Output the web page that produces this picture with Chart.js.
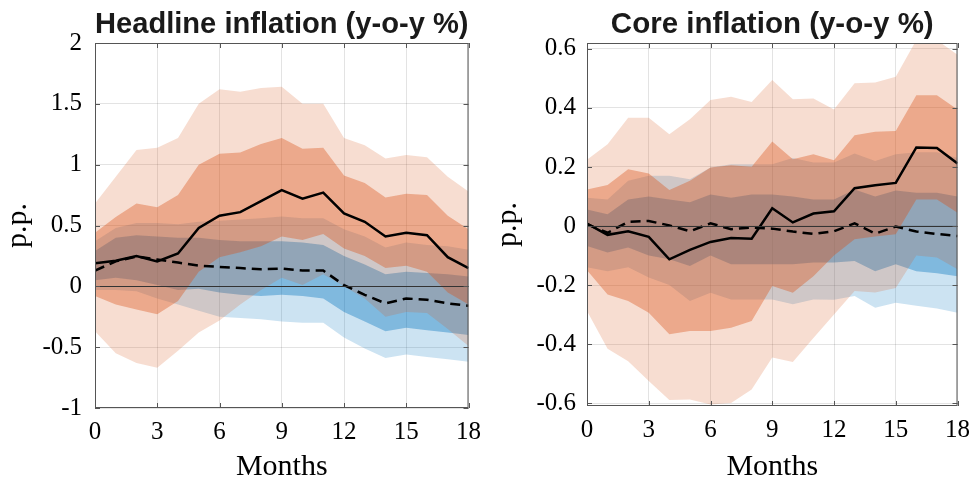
<!DOCTYPE html>
<html>
<head>
<meta charset="utf-8">
<script src="https://cdn.jsdelivr.net/npm/chart.js@4.4.1/dist/chart.umd.min.js"></script>
<style>
html, body { margin: 0; padding: 0; background: #fff; }
#wrap { position: relative; width: 979px; height: 485px; overflow: hidden; }
canvas { position: absolute; top: 0; }
</style>
</head>
<body>
<div id="wrap">
  <canvas id="headline" width="490" height="485" style="left:0"></canvas>
  <canvas id="core" width="489" height="485" style="left:490px"></canvas>
</div>
<script>
// horizon and tick labels
const months = [0, 1, 2, 3, 4, 5, 6, 7, 8, 9, 10, 11, 12, 13, 14, 15, 16, 17, 18];
const xTicks = [0, 3, 6, 9, 12, 15, 18];
const headlineTicks = [-1, -0.5, 0, 0.5, 1, 1.5, 2];
const coreTicks = [-0.6, -0.4, -0.2, 0, 0.2, 0.4, 0.6];

// headline: solid (orange fan) and dashed (blue fan)
const headSolid = [0.19, 0.21, 0.25, 0.205, 0.27, 0.48, 0.58, 0.61, 0.70, 0.79, 0.72, 0.77, 0.60, 0.53, 0.41, 0.44, 0.42, 0.24, 0.15];
const headDashed = [0.13, 0.205, 0.245, 0.22, 0.195, 0.17, 0.16, 0.15, 0.14, 0.145, 0.13, 0.13, 0.01, -0.07, -0.14, -0.10, -0.11, -0.14, -0.16];
const headOrange68Hi = [0.44, 0.57, 0.68, 0.65, 0.75, 1.0, 1.09, 1.10, 1.17, 1.22, 1.13, 1.14, 0.91, 0.85, 0.73, 0.76, 0.75, 0.58, 0.47];
const headOrange68Lo = [-0.08, -0.15, -0.19, -0.23, -0.12, 0.12, 0.24, 0.28, 0.33, 0.41, 0.38, 0.43, 0.31, 0.25, 0.15, 0.17, 0.12, -0.05, -0.15];
const headOrange90Hi = [0.68, 0.90, 1.12, 1.14, 1.22, 1.50, 1.62, 1.60, 1.63, 1.64, 1.50, 1.50, 1.22, 1.16, 1.05, 1.08, 1.06, 0.90, 0.78];
const headOrange90Lo = [-0.37, -0.55, -0.63, -0.67, -0.53, -0.38, -0.28, -0.15, -0.03, 0.07, 0.01, 0.10, 0.0, -0.10, -0.25, -0.21, -0.22, -0.35, -0.49];
const headBlue68Hi = [0.29, 0.40, 0.42, 0.41, 0.40, 0.40, 0.38, 0.37, 0.37, 0.37, 0.36, 0.34, 0.25, 0.18, 0.10, 0.12, 0.11, 0.10, 0.08];
const headBlue68Lo = [0.05, 0.07, 0.05, 0.01, -0.03, -0.02, -0.05, -0.07, -0.08, -0.07, -0.08, -0.10, -0.21, -0.29, -0.37, -0.34, -0.36, -0.38, -0.40];
const headBlue90Hi = [0.37, 0.48, 0.52, 0.52, 0.51, 0.53, 0.54, 0.55, 0.56, 0.575, 0.56, 0.56, 0.47, 0.41, 0.32, 0.36, 0.34, 0.33, 0.30];
const headBlue90Lo = [-0.03, -0.03, -0.04, -0.10, -0.15, -0.20, -0.25, -0.26, -0.27, -0.29, -0.30, -0.30, -0.42, -0.51, -0.59, -0.56, -0.58, -0.60, -0.62];

// core
const coreSolid = [0.008, -0.03, -0.018, -0.037, -0.113, -0.081, -0.054, -0.041, -0.043, 0.06, 0.012, 0.042, 0.05, 0.128, 0.138, 0.146, 0.266, 0.264, 0.212];
const coreDashed = [0.006, -0.023, 0.014, 0.017, 0.002, -0.018, 0.009, -0.011, -0.005, -0.009, -0.019, -0.027, -0.018, 0.009, -0.026, -0.002, -0.019, -0.027, -0.034];
const coreOrange68Hi = [0.124, 0.139, 0.192, 0.178, 0.122, 0.153, 0.198, 0.206, 0.201, 0.286, 0.226, 0.243, 0.223, 0.307, 0.319, 0.322, 0.443, 0.443, 0.395];
const coreOrange68Lo = [-0.15, -0.232, -0.254, -0.294, -0.367, -0.356, -0.356, -0.345, -0.322, -0.203, -0.226, -0.17, -0.10, -0.045, -0.036, -0.028, 0.09, 0.09, 0.045];
const coreOrange90Hi = [0.224, 0.277, 0.367, 0.367, 0.311, 0.362, 0.427, 0.438, 0.42, 0.495, 0.429, 0.432, 0.395, 0.484, 0.486, 0.506, 0.63, 0.63, 0.58];
const coreOrange90Lo = [-0.288, -0.416, -0.458, -0.525, -0.59, -0.588, -0.605, -0.6, -0.554, -0.446, -0.461, -0.38, -0.30, -0.22, -0.225, -0.21, -0.10, -0.107, -0.147];
const coreBlue68Hi = [0.056, 0.04, 0.09, 0.10, 0.09, 0.08, 0.107, 0.096, 0.107, 0.107, 0.10, 0.09, 0.09, 0.124, 0.10, 0.12, 0.113, 0.113, 0.10];
const coreBlue68Lo = [-0.068, -0.09, -0.073, -0.10, -0.113, -0.136, -0.10, -0.13, -0.13, -0.13, -0.13, -0.124, -0.124, -0.119, -0.153, -0.13, -0.153, -0.16, -0.17];
const coreBlue90Hi = [0.096, 0.09, 0.153, 0.17, 0.17, 0.158, 0.198, 0.209, 0.209, 0.209, 0.23, 0.215, 0.215, 0.246, 0.22, 0.243, 0.25, 0.25, 0.23];
const coreBlue90Lo = [-0.14, -0.153, -0.14, -0.175, -0.2, -0.254, -0.226, -0.249, -0.249, -0.249, -0.265, -0.249, -0.25, -0.237, -0.277, -0.26, -0.27, -0.28, -0.294];

const ORANGE = '217, 83, 25';
const BLUE = '0, 114, 189';
const serif = 'Liberation Serif';

function pts(arr) {
  return months.map((m, i) => ({ x: m, y: arr[i] }));
}

function band(hi, lo, rgb, alpha, order) {
  return [
    { data: pts(hi), fill: '+1', backgroundColor: 'rgba(' + rgb + ',' + alpha + ')',
      borderColor: 'rgba(0,0,0,0)', borderWidth: 0, pointRadius: 0, order: order },
    { data: pts(lo), fill: false, borderColor: 'rgba(0,0,0,0)', borderWidth: 0, pointRadius: 0, order: order }
  ];
}

// box, inward ticks and zero line, like the original axes
const framePlugin = {
  id: 'frame',
  afterDatasetsDraw(chart) {
    const { ctx, chartArea: a, scales } = chart;
    const x = scales.x, y = scales.y;
    ctx.save();
    const y0 = Math.round(y.getPixelForValue(0)) + 0.5;
    ctx.strokeStyle = '#333';
    ctx.lineWidth = 1;
    ctx.beginPath();
    ctx.moveTo(a.left, y0);
    ctx.lineTo(a.right, y0);
    ctx.stroke();

    ctx.strokeStyle = '#555';
    ctx.strokeRect(a.left + 0.5, a.top + 0.5, a.right - a.left - 1, a.bottom - a.top - 1);
    ctx.beginPath();
    x.ticks.forEach(t => {
      const px = Math.round(x.getPixelForValue(t.value)) + 0.5;
      ctx.moveTo(px, a.bottom); ctx.lineTo(px, a.bottom - 5);
      ctx.moveTo(px, a.top); ctx.lineTo(px, a.top + 5);
    });
    y.ticks.forEach(t => {
      const py = Math.round(y.getPixelForValue(t.value)) + 0.5;
      ctx.moveTo(a.left, py); ctx.lineTo(a.left + 5, py);
      ctx.moveTo(a.right, py); ctx.lineTo(a.right - 5, py);
    });
    ctx.stroke();
    ctx.restore();
  }
};

function makeChart(id, title, s, yMin, yMax, yTicks, axisW, xAxisH, padRight, tickPad) {
  const datasets = [
    { data: pts(s.solid), borderColor: '#000', borderWidth: 2.5, pointRadius: 0, fill: false, order: 0 },
    { data: pts(s.dashed), borderColor: '#000', borderWidth: 2.5, borderDash: [10, 6], pointRadius: 0, fill: false, order: 0 }
  ]
    .concat(band(s.o68hi, s.o68lo, ORANGE, 0.375, 1))
    .concat(band(s.o90hi, s.o90lo, ORANGE, 0.2, 2))
    .concat(band(s.b68hi, s.b68lo, BLUE, 0.375, 3))
    .concat(band(s.b90hi, s.b90lo, BLUE, 0.2, 4));

  return new Chart(document.getElementById(id).getContext('2d'), {
    type: 'line',
    data: { datasets: datasets },
    options: {
      responsive: false,
      animation: false,
      layout: { padding: { right: padRight } },
      elements: { line: { tension: 0 } },
      plugins: {
        legend: { display: false },
        tooltip: { enabled: false },
        title: {
          display: true, text: title, fullSize: false, color: '#1a1a1a',
          font: { family: 'Liberation Sans', size: 29.5, weight: 'bold' },
          padding: { top: 7, bottom: 0.6 }
        }
      },
      scales: {
        x: {
          type: 'linear', min: 0, max: 18,
          afterBuildTicks(sc) { sc.ticks = xTicks.map(v => ({ value: v })); },
          afterFit(sc) { sc.height = xAxisH; },
          ticks: { font: { family: serif, size: 25 }, color: '#000', padding: 9, maxRotation: 0, autoSkip: false },
          grid: { color: 'rgba(38,38,38,0.13)', drawTicks: false },
          border: { display: false },
          title: { display: true, text: 'Months', color: '#000', font: { family: serif, size: 30 }, padding: { bottom: 0 } }
        },
        y: {
          type: 'linear', min: yMin, max: yMax,
          afterBuildTicks(sc) { sc.ticks = yTicks.map(v => ({ value: v })); },
          afterFit(sc) { sc.width = axisW; },
          ticks: { font: { family: serif, size: 25 }, color: '#000', padding: tickPad, callback: v => String(v) },
          grid: { color: 'rgba(38,38,38,0.13)', drawTicks: false },
          border: { display: false },
          title: { display: true, text: 'p.p.', color: '#000', font: { family: serif, size: 30 }, padding: { top: 0 } }
        }
      }
    },
    plugins: [framePlugin]
  });
}

makeChart('headline', 'Headline inflation (y-o-y %)', {
  solid: headSolid, dashed: headDashed,
  o68hi: headOrange68Hi, o68lo: headOrange68Lo, o90hi: headOrange90Hi, o90lo: headOrange90Lo,
  b68hi: headBlue68Hi, b68lo: headBlue68Lo, b90hi: headBlue90Hi, b90lo: headBlue90Lo
}, -1, 2, headlineTicks, 95, 77, 21, 13);

makeChart('core', 'Core inflation (y-o-y %)', {
  solid: coreSolid, dashed: coreDashed,
  o68hi: coreOrange68Hi, o68lo: coreOrange68Lo, o90hi: coreOrange90Hi, o90lo: coreOrange90Lo,
  b68hi: coreBlue68Hi, b68lo: coreBlue68Lo, b90hi: coreBlue90Hi, b90lo: coreBlue90Lo
}, -0.61, 0.62, coreTicks, 97, 79, 17, 11);
</script>
</body>
</html>
